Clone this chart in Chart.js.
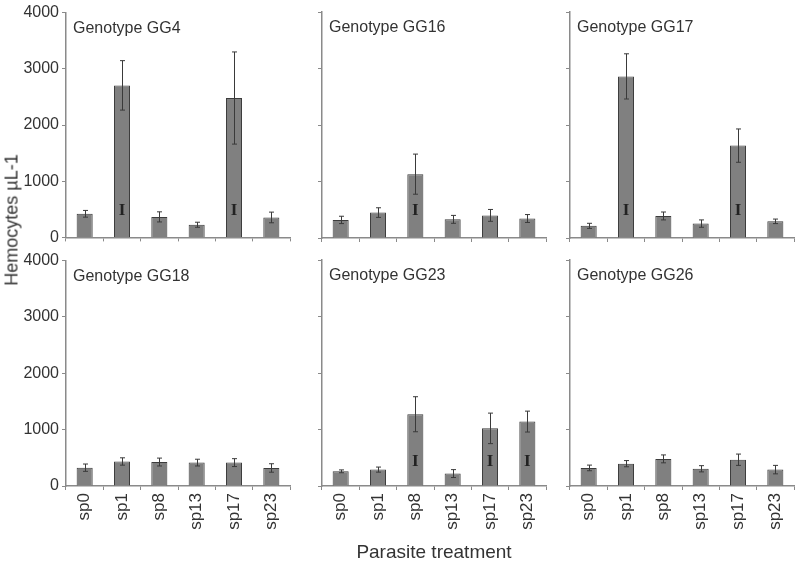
<!DOCTYPE html>
<html>
<head>
<meta charset="utf-8">
<script src="https://cdn.jsdelivr.net/npm/chart.js@4"></script>
<style>
  body { margin: 0; background: #fff; }
  #page { position: relative; width: 800px; height: 565px; overflow: hidden; background: #fff; }
  .panel { position: absolute; }
  #ytitle {
    position: absolute; left: 12px; top: 220px;
    transform: translate(-50%, -50%) rotate(-90deg);
    font: 18px "Liberation Sans", Arial, sans-serif; color: #333; white-space: nowrap;
  }
</style>
</head>
<body>
<div id="page">
  <div class="panel" id="p0"><canvas id="c0"></canvas></div>
  <div class="panel" id="p1"><canvas id="c1"></canvas></div>
  <div class="panel" id="p2"><canvas id="c2"></canvas></div>
  <div class="panel" id="p3"><canvas id="c3"></canvas></div>
  <div class="panel" id="p4"><canvas id="c4"></canvas></div>
  <div class="panel" id="p5"><canvas id="c5"></canvas></div>
  <div id="ytitle">Hemocytes µL-1</div>
</div>
<script>
// ── DATA ────────────────────────────────────────────────────

const categories = ['sp0', 'sp1', 'sp8', 'sp13', 'sp17', 'sp23'];
const yTicks = [0, 1000, 2000, 3000, 4000];

const gg4Means   = [420, 2705, 365, 225, 2480, 355];
const gg4Errors  = [60, 440, 90, 45, 820, 95];
const gg16Means  = [320, 450, 1130, 330, 400, 345];
const gg16Errors = [65, 85, 355, 70, 105, 70];
const gg17Means  = [215, 2860, 390, 255, 1635, 295];
const gg17Errors = [45, 400, 70, 65, 295, 40];
const gg18Means  = [325, 435, 425, 415, 415, 320];
const gg18Errors = [65, 65, 70, 60, 70, 75];
const gg23Means  = [260, 290, 1270, 220, 1020, 1140];
const gg23Errors = [25, 45, 310, 70, 270, 185];
const gg26Means  = [320, 395, 480, 305, 465, 290];
const gg26Errors = [50, 55, 70, 55, 100, 75];

// bars carrying the "I" mark
const gg4Marks  = [0, 1, 0, 0, 1, 0];
const gg16Marks = [0, 0, 1, 0, 0, 0];
const gg17Marks = [0, 1, 0, 0, 1, 0];
const gg18Marks = [0, 0, 0, 0, 0, 0];
const gg23Marks = [0, 0, 1, 0, 1, 1];
const gg26Marks = [0, 0, 0, 0, 0, 0];

const panels = [
  { title: 'Genotype GG4',  means: gg4Means,  errors: gg4Errors,  marks: gg4Marks,  markAt: 480 },
  { title: 'Genotype GG16', means: gg16Means, errors: gg16Errors, marks: gg16Marks, markAt: 480 },
  { title: 'Genotype GG17', means: gg17Means, errors: gg17Errors, marks: gg17Marks, markAt: 480 },
  { title: 'Genotype GG18', means: gg18Means, errors: gg18Errors, marks: gg18Marks, markAt: 430 },
  { title: 'Genotype GG23', means: gg23Means, errors: gg23Errors, marks: gg23Marks, markAt: 430 },
  { title: 'Genotype GG26', means: gg26Means, errors: gg26Errors, marks: gg26Marks, markAt: 430 },
];


// ── LAYOUT ──────────────────────────────────────────────────

const colLeft = [66, 322, 570];
const rowTop = [12, 260];
const plotW = 224, plotH = 226;
const axisW = 62, padTop = 12, padRight = 10;

const FONT = '"Liberation Sans", Arial, sans-serif';
const TEXT = '#333';
const AXIS = '#8a8a8a';


// ── PLUGINS ─────────────────────────────────────────────────

const errorBars = {
  id: 'errorBars',
  afterDatasetsDraw(chart, args, opts) {
    const { ctx, scales: { y } } = chart;
    const meta = chart.getDatasetMeta(0);
    ctx.save();
    ctx.strokeStyle = '#3a3a3a';
    ctx.lineWidth = 1;
    meta.data.forEach((bar, i) => {
      const v = opts.means[i], e = opts.errors[i];
      const x = Math.round(bar.x) + 0.5;
      const yTop = y.getPixelForValue(v + e);
      const yBot = y.getPixelForValue(v - e);
      ctx.beginPath();
      ctx.moveTo(x, yTop); ctx.lineTo(x, yBot);
      ctx.moveTo(x - 2.5, yTop); ctx.lineTo(x + 2.5, yTop);
      ctx.moveTo(x - 2.5, yBot); ctx.lineTo(x + 2.5, yBot);
      ctx.stroke();
    });
    // "I" marks inside bars
    ctx.fillStyle = '#222';
    ctx.font = 'bold 17px "Liberation Serif", serif';
    ctx.textAlign = 'center';
    ctx.textBaseline = 'middle';
    meta.data.forEach((bar, i) => {
      if (opts.marks[i]) ctx.fillText('I', bar.x, y.getPixelForValue(opts.markAt));
    });
    ctx.restore();
  }
};

const panelTitle = {
  id: 'panelTitle',
  afterDraw(chart, args, opts) {
    const { ctx, chartArea } = chart;
    ctx.save();
    ctx.fillStyle = TEXT;
    ctx.font = '16px ' + FONT;
    ctx.textAlign = 'left';
    ctx.textBaseline = 'middle';
    ctx.fillText(opts.text, chartArea.left + 7, chartArea.top + 16);
    ctx.restore();
  }
};


// ── BUILD PANELS ────────────────────────────────────────────

panels.forEach((p, k) => {
  const col = k % 3, row = Math.floor(k / 3);
  const isBottom = row === 1;
  const isMiddleBottom = k === 4;
  const xAxisH = isBottom ? (isMiddleBottom ? 565 - (rowTop[1] + plotH) : 60) : 12;

  const div = document.getElementById('p' + k);
  div.style.left = (colLeft[col] - axisW) + 'px';
  div.style.top = (rowTop[row] - padTop) + 'px';
  div.style.width = (axisW + plotW + padRight) + 'px';
  div.style.height = (padTop + plotH + xAxisH) + 'px';

  new Chart(document.getElementById('c' + k), {
    type: 'bar',
    data: {
      labels: categories,
      datasets: [{
        data: p.means,
        backgroundColor: '#808080',
        borderColor: '#3c3c3c',
        borderWidth: 1,
        barPercentage: 0.43,
        categoryPercentage: 1,
      }]
    },
    options: {
      responsive: true,
      maintainAspectRatio: false,
      animation: false,
      layout: { padding: { left: 0, right: padRight, top: padTop, bottom: 0 } },
      plugins: {
        legend: { display: false },
        tooltip: { enabled: false },
        errorBars: { means: p.means, errors: p.errors, marks: p.marks, markAt: p.markAt },
        panelTitle: { text: p.title },
      },
      scales: {
        x: {
          afterFit: s => { s.height = xAxisH; },
          border: { color: AXIS, width: 1.5 },
          grid: { offset: true, drawOnChartArea: false, drawTicks: true, tickLength: 4, color: AXIS, lineWidth: 1 },
          ticks: {
            display: isBottom,
            minRotation: 90, maxRotation: 90,
            padding: 3,
            color: TEXT,
            font: { family: FONT, size: 17 },
          },
          title: {
            display: isMiddleBottom,
            text: 'Parasite treatment',
            color: TEXT,
            font: { family: FONT, size: 19 },
            padding: { top: 0, bottom: 1 },
          },
        },
        y: {
          min: 0, max: 4000,
          afterFit: s => { s.width = axisW; },
          afterBuildTicks: s => { s.ticks = yTicks.map(v => ({ value: v })); },
          border: { color: AXIS, width: 1.5 },
          grid: { drawOnChartArea: false, drawTicks: true, tickLength: 4, color: AXIS, lineWidth: 1 },
          ticks: {
            display: col === 0,
            padding: 3,
            color: TEXT,
            font: { family: FONT, size: 16 },
            callback: v => String(v),
          },
        },
      },
    },
    plugins: [errorBars, panelTitle],
  });
});
</script>
</body>
</html>
